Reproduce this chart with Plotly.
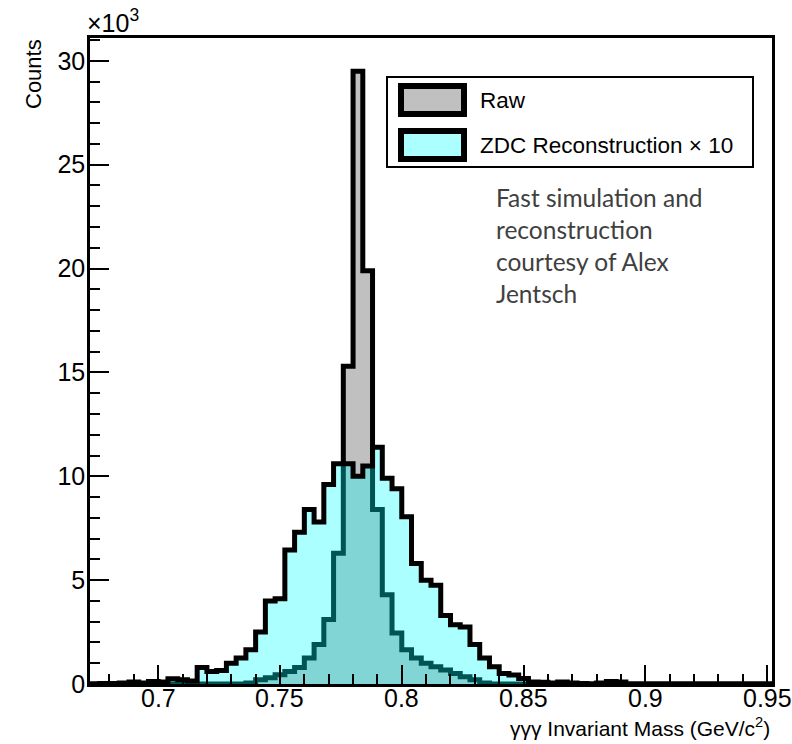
import plotly.graph_objects as go

# ---------------- data (counts in units of 10^3) ----------------
BIN_START = 0.672
BIN_WIDTH = 0.004

raw_counts_k = [
    0, 0, 0, 0, 0, 0, 0, 0, 0, 0,
    0, 0, 0, 0, 0, 0, 0.05, 0.2, 0.3, 0.45,
    0.6, 0.8, 1.25, 1.9, 3.1, 6.3, 15.3, 29.5, 19.9, 8.4,
    4.3, 2.45, 1.65, 1.25, 1.0, 0.83, 0.67, 0.5, 0.35, 0.2,
    0.05, 0, 0, 0, 0, 0, 0, 0, 0, 0,
    0, 0, 0, 0, 0, 0, 0, 0, 0, 0,
    0, 0, 0, 0, 0, 0, 0, 0, 0, 0,
]

zdc_x10_counts_k = [
    0, 0.02, 0.02, 0.05, 0.1, 0.05, 0.12, 0.1, 0.25, 0.2,
    0.15, 0.8, 0.6, 0.65, 1.0, 1.25, 1.65, 2.5, 4.0, 4.1,
    6.45, 7.3, 8.4, 7.8, 9.6, 10.6, 10.6, 10.0, 10.5, 11.4,
    9.9, 9.4, 8.05, 5.8, 5.0, 4.75, 3.3, 2.85, 2.75, 1.9,
    1.25, 0.83, 0.5, 0.43, 0.27, 0.1, 0.08, 0.05, 0.1, 0.05,
    0.02, 0, 0.05, 0.12, 0.1, 0, 0, 0, 0, 0,
    0, 0, 0, 0, 0, 0, 0, 0, 0, 0,
]

x_tickvals = [0.7, 0.75, 0.8, 0.85, 0.9, 0.95]
x_ticktext = ["0.7", "0.75", "0.8", "0.85", "0.9", "0.95"]
y_tickvals = [0, 5, 10, 15, 20, 25, 30]
y_ticktext = ["0", "5", "10", "15", "20", "25", "30"]

series_names = ["Raw", "ZDC Reconstruction × 10"]
note_lines = ["Fast simulation and", "reconstruction", "courtesy of Alex", "Jentsch"]

X_RANGE = [0.672, 0.952]
Y_RANGE = [0, 31.1]

# ---------------- geometry helpers ----------------
W, H = 792, 744
ML, MR, MT, MB = 90, 20, 38, 60
PW, PH = W - ML - MR, H - MT - MB


def px(x):
    return (x - ML) / PW


def py(y):
    return (H - MB - y) / PH


n = len(raw_counts_k)
edges = [round(BIN_START + BIN_WIDTH * i, 4) for i in range(n + 1)]

minor_x = [round(0.68 + 0.01 * i, 3) for i in range(28)]
minor_y = list(range(0, 32))

FONT = "Liberation Sans, Arial, sans-serif"
GREY = "#c0c0c0"
CYAN_T = "rgba(0,255,255,0.33)"
CYAN_L = "#abffff"

fig = go.Figure()
fig.add_trace(go.Scatter(
    x=edges, y=raw_counts_k + [raw_counts_k[-1]], mode="lines",
    line=dict(shape="hv", color="black", width=5),
    fill="tozeroy", fillcolor=GREY, name=series_names[0], hoverinfo="skip"))
fig.add_trace(go.Scatter(
    x=edges, y=zdc_x10_counts_k + [zdc_x10_counts_k[-1]], mode="lines",
    line=dict(shape="hv", color="black", width=5),
    fill="tozeroy", fillcolor=CYAN_T, name=series_names[1], hoverinfo="skip"))

axis_common = dict(
    ticks="inside", ticklen=19, tickwidth=2, tickcolor="black",
    showline=True, linewidth=2.5, linecolor="black", mirror=True,
    showgrid=False, zeroline=False, automargin=False,
    tickfont=dict(family=FONT, size=25, color="black"),
)

# x tick labels are drawn as annotations below (for exact vertical placement)
fig.update_xaxes(range=X_RANGE, tickmode="array", tickvals=x_tickvals, showticklabels=False,
                 minor=dict(tickvals=minor_x, ticks="inside", ticklen=10, tickwidth=2, tickcolor="black"),
                 **axis_common)
fig.update_yaxes(range=Y_RANGE, tickmode="array", tickvals=y_tickvals, ticktext=y_ticktext,
                 ticklabelstandoff=-3,
                 minor=dict(tickvals=minor_y, ticks="inside", ticklen=10, tickwidth=2, tickcolor="black"),
                 **axis_common)

annotations = []
for v, t in zip(x_tickvals, x_ticktext):
    annotations.append(dict(text=t, x=v, xref="x", y=py(698), yref="paper", xanchor="center",
                            yanchor="middle", showarrow=False,
                            font=dict(family=FONT, size=25, color="black")))

annotations += [
    dict(text="Counts", x=px(34), y=py(37), xanchor="center", yanchor="top", textangle=-90,
         showarrow=False, xref="paper", yref="paper", font=dict(family=FONT, size=22, color="black")),
    dict(text="×10<sup>3</sup>", x=px(85), y=py(39), xanchor="left", yanchor="bottom",
         showarrow=False, xref="paper", yref="paper", font=dict(family=FONT, size=25, color="black")),
    dict(text="γγγ Invariant Mass (GeV/c<sup>2</sup>)", x=px(772), y=py(727), xanchor="right", yanchor="middle",
         showarrow=False, xref="paper", yref="paper", font=dict(family=FONT, size=21, color="black")),
    dict(text=series_names[0], x=px(478), y=py(100), xanchor="left", yanchor="middle",
         showarrow=False, xref="paper", yref="paper", font=dict(family=FONT, size=22.5, color="black")),
    dict(text=series_names[1], x=px(478), y=py(145), xanchor="left", yanchor="middle",
         showarrow=False, xref="paper", yref="paper", font=dict(family=FONT, size=22.5, color="black")),
]
for i, line in enumerate(note_lines):
    annotations.append(dict(text=line, x=px(494), y=py(198 + 31.7 * i), xanchor="left", yanchor="middle",
                            showarrow=False, xref="paper", yref="paper",
                            font=dict(family="Lato, Open Sans, sans-serif", size=24.5, color="#404040")))

shapes = [
    dict(type="rect", xref="paper", yref="paper", x0=px(387), x1=px(753), y0=py(167), y1=py(77),
         line=dict(color="black", width=2), fillcolor="white", layer="above"),
    dict(type="rect", xref="paper", yref="paper", x0=px(401), x1=px(464), y0=py(114), y1=py(86),
         line=dict(color="black", width=6), fillcolor=GREY, layer="above"),
    dict(type="rect", xref="paper", yref="paper", x0=px(401), x1=px(464), y0=py(159), y1=py(131),
         line=dict(color="black", width=6), fillcolor=CYAN_L, layer="above"),
]

fig.update_layout(
    width=W, height=H, margin=dict(l=ML, r=MR, t=MT, b=MB, autoexpand=False),
    plot_bgcolor="white", paper_bgcolor="white", showlegend=False,
    annotations=annotations, shapes=shapes,
)

fig.write_html("out.html")
